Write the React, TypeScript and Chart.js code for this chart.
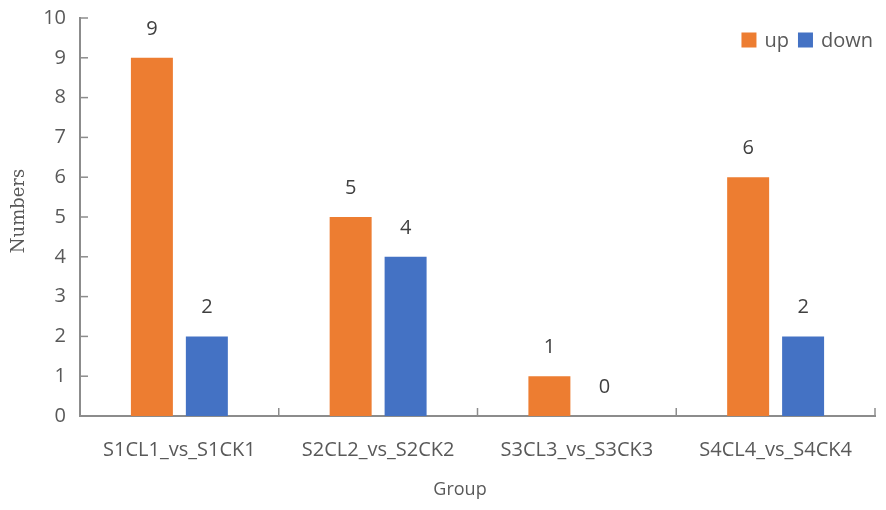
import React, { useEffect, useRef } from 'react'
import { Chart, registerables } from 'chart.js'

Chart.register(...registerables)

const groups = ['S1CL1_vs_S1CK1', 'S2CL2_vs_S2CK2', 'S3CL3_vs_S3CK3', 'S4CL4_vs_S4CK4']
const upCounts = [9, 5, 1, 6]
const downCounts = [2, 4, 0, 2]
const seriesNames = ['up', 'down']

const AXIS = '#8c8c8c'
const TEXT = '#595959'
const SANS = '"Open Sans", "Noto Sans", sans-serif'
const SERIF = '"DejaVu Serif", "Liberation Serif", serif'

// inward tick marks, value labels, legend and axis titles
const marksPlugin = {
  id: 'marks',
  afterDraw(chart: any) {
    const { ctx, chartArea, scales } = chart
    const y = scales.y
    const x = scales.x
    ctx.save()
    ctx.strokeStyle = AXIS
    ctx.lineWidth = 1.5
    y.ticks.forEach((t: any) => {
      const py = y.getPixelForValue(t.value)
      ctx.beginPath()
      ctx.moveTo(chartArea.left, py)
      ctx.lineTo(chartArea.left + 8, py)
      ctx.stroke()
    })
    const half = (x.getPixelForValue(1) - x.getPixelForValue(0)) / 2
    for (let i = 0; i < groups.length; i++) {
      const px = x.getPixelForValue(i) + half
      ctx.beginPath()
      ctx.moveTo(px, chartArea.bottom)
      ctx.lineTo(px, chartArea.bottom - 8)
      ctx.stroke()
    }

    // value labels
    ctx.fillStyle = '#404040'
    ctx.font = '20px ' + SANS
    ctx.textAlign = 'center'
    ctx.textBaseline = 'middle'
    chart.data.datasets.forEach((ds: any, di: number) => {
      chart.getDatasetMeta(di).data.forEach((bar: any, i: number) => {
        ctx.fillText(String(ds.data[i]), bar.x, bar.y - 29)
      })
    })

    // legend, laid out from the right edge
    ctx.font = '20px ' + SANS
    ctx.textAlign = 'left'
    const ly = chartArea.top + 22
    let right = chartArea.right - 2
    const items = chart.data.datasets.map((ds: any) => ({ text: ds.label, color: ds.backgroundColor }))
    for (let i = items.length - 1; i >= 0; i--) {
      const w = ctx.measureText(items[i].text).width
      const tx = right - w
      const bx = tx - 8 - 15
      ctx.fillStyle = items[i].color
      ctx.fillRect(bx, ly - 7.5, 15, 15)
      ctx.fillStyle = TEXT
      ctx.fillText(items[i].text, tx, ly + 1)
      right = bx - 9
    }

    // axis titles
    ctx.fillStyle = TEXT
    ctx.textAlign = 'center'
    ctx.font = '18px ' + SANS
    ctx.fillText('Group', 460, 490)
    ctx.save()
    ctx.translate(19, 211)
    ctx.rotate(-Math.PI / 2)
    ctx.font = '18px ' + SERIF
    ctx.fillText('Numbers', 0, 0)
    ctx.restore()
    ctx.restore()
  },
}

export default function App() {
  const canvasRef = useRef<HTMLCanvasElement>(null)
  const chartRef = useRef<Chart | null>(null)

  useEffect(() => {
    document.body.style.margin = '0'
    if (chartRef.current) { chartRef.current.destroy(); chartRef.current = null }
    if (!canvasRef.current) return
    const ctx = canvasRef.current.getContext('2d')
    if (!ctx) return

    chartRef.current = new Chart(ctx, {
      type: 'bar',
      data: {
        labels: groups,
        datasets: [
          { label: seriesNames[0], data: upCounts, backgroundColor: '#ED7D31', categoryPercentage: 0.553, barPercentage: 0.764 },
          { label: seriesNames[1], data: downCounts, backgroundColor: '#4472C4', categoryPercentage: 0.553, barPercentage: 0.764 },
        ],
      },
      options: {
        responsive: true, maintainAspectRatio: false, animation: false,
        layout: { padding: { top: 6, right: 11, bottom: 0, left: 0 } },
        plugins: {
          tooltip: { enabled: false },
          legend: { display: false },
        },
        scales: {
          x: {
            grid: { display: false },
            border: { color: AXIS, width: 2 },
            ticks: { color: TEXT, padding: 14, font: { size: 20, family: SANS } },
            afterFit: (s: any) => { s.height = 94 },
          },
          y: {
            min: 0, max: 10,
            grid: { display: false },
            border: { color: AXIS, width: 2 },
            ticks: { stepSize: 1, color: TEXT, padding: 6, font: { size: 20, family: SANS } },
            afterFit: (s: any) => { s.width = 80 },
          },
        },
      },
      plugins: [marksPlugin],
    })

    return () => { if (chartRef.current) chartRef.current.destroy() }
  }, [])

  return (
    <div style={{ width: 886, height: 510, position: 'relative', background: '#fff' }}>
      <canvas ref={canvasRef} />
    </div>
  )
}
